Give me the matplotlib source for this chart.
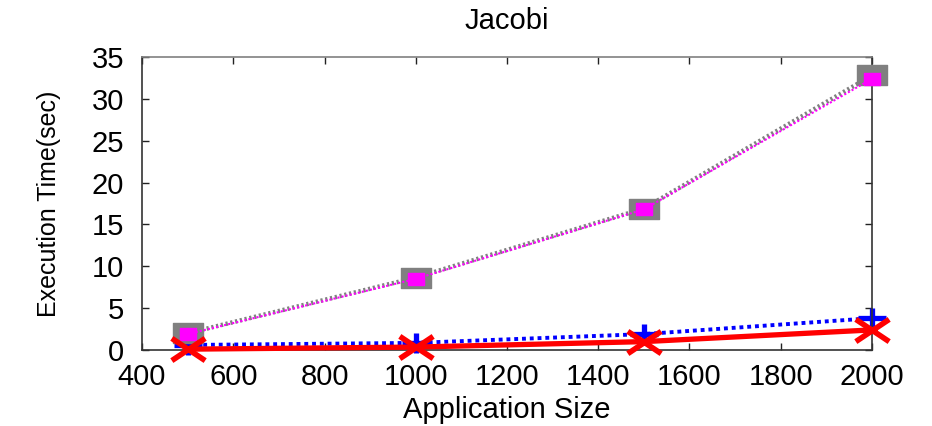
import numpy as np
import matplotlib
matplotlib.use("Agg")
import matplotlib.pyplot as plt
from matplotlib.path import Path

# --- DATA ---
sizes = [500, 1000, 1500, 2000]
red_times = [0.1, 0.35, 1.0, 2.4]
blue_times = [0.6, 0.85, 1.9, 3.8]
magenta_times = [1.9, 8.5, 16.8, 32.4]
gray_times = [2.0, 8.65, 16.9, 32.8]

x_ticks = [400, 600, 800, 1000, 1200, 1400, 1600, 1800, 2000]
y_ticks = [0, 5, 10, 15, 20, 25, 30, 35]

# wide markers (the reference looks stretched horizontally)
wide_x = Path([(-1.5, -1), (1.5, 1), (-1.5, 1), (1.5, -1)],
              [Path.MOVETO, Path.LINETO, Path.MOVETO, Path.LINETO])
wide_plus = Path([(-1.45, 0), (1.45, 0), (0, -1), (0, 1)],
                 [Path.MOVETO, Path.LINETO, Path.MOVETO, Path.LINETO])
wide_sq = Path([(-1.5, -1), (1.5, -1), (1.5, 1), (-1.5, 1), (-1.5, -1)],
               [Path.MOVETO, Path.LINETO, Path.LINETO, Path.LINETO, Path.CLOSEPOLY])

plt.rcParams['font.family'] = ['Liberation Sans', 'DejaVu Sans']

fig = plt.figure(figsize=(9.32, 4.26), dpi=100)
ax = fig.add_axes([0.1524, 0.1784, 0.9356 - 0.1524, 0.8662 - 0.1784])

ax.plot(sizes, blue_times, color='#0000ff', lw=2.8, linestyle=(0, (1, 1)),
        marker=wide_plus, markersize=20, markeredgewidth=3.8, zorder=2,
        clip_on=False)
ax.plot(sizes, gray_times, color='#808080', lw=3.2, linestyle=(0, (0.5, 0.6)),
        marker=wide_sq, markersize=22, markerfacecolor='#808080',
        markeredgecolor='#808080', zorder=3, clip_on=False)
ax.plot(sizes, magenta_times, color='#ff00ff', lw=1.5, linestyle=(0, (1, 1)),
        marker=wide_sq, markersize=12, markerfacecolor='#ff00ff',
        markeredgecolor='#ff00ff', zorder=4, clip_on=False)
ax.plot(sizes, red_times, color='#ff0000', lw=3.8, linestyle='-',
        marker=wide_x, markersize=24, markeredgewidth=4, zorder=5,
        clip_on=False)

ax.set_xlim(400, 2000)
ax.set_ylim(0, 35)
ax.set_xticks(x_ticks)
ax.set_yticks(y_ticks)

ax.tick_params(direction='in', length=5, width=1, top=True, right=True,
               labelsize=21, colors='#222222', labelcolor='black')
ax.tick_params(axis='y', pad=13)
ax.tick_params(axis='x', pad=9)
for side in ['left', 'bottom', 'right']:
    ax.spines[side].set_color('#333333')
    ax.spines[side].set_linewidth(1.2)
ax.spines['top'].set_color('#808080')
ax.spines['top'].set_linewidth(1.2)

ax.set_title('Jacobi', fontsize=21, pad=20)
ax.set_xlabel('Application Size', fontsize=21, labelpad=4)
ax.set_ylabel('Execution Time(sec)', fontsize=18, labelpad=22)

fig.savefig('out.png', dpi=100)
